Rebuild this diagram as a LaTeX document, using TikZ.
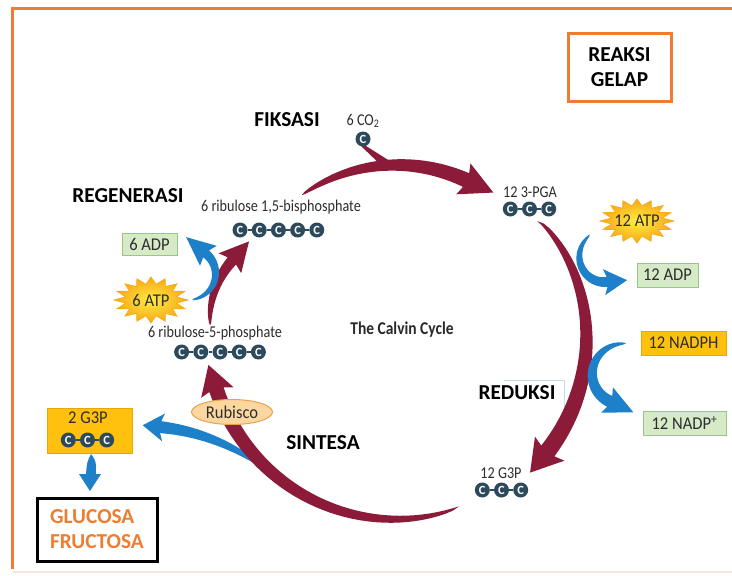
\documentclass[tikz,border=0pt]{standalone}
\usepackage{fontspec}
\setmainfont{Carlito}
\newfontfamily\campb[FakeStretch=0.86]{Carlito}
\newfontfamily\boxf[FakeStretch=0.92]{Carlito}
\usetikzlibrary{shapes.geometric}
\definecolor{cyc}{RGB}{140,27,58}
\definecolor{blu}{RGB}{30,128,200}
\definecolor{carb}{RGB}{44,74,92}
\definecolor{frameor}{RGB}{237,125,49}
\definecolor{gold}{RGB}{255,193,14}
\definecolor{goldedge}{RGB}{232,168,0}
\definecolor{gfill}{RGB}{214,234,200}
\definecolor{gedge}{RGB}{150,200,130}
\definecolor{rfill}{RGB}{252,216,160}
\definecolor{redge}{RGB}{233,160,80}
\definecolor{txtgray}{RGB}{45,45,45}
\definecolor{stary}{RGB}{255,236,70}
\definecolor{staro}{RGB}{247,168,20}
\definecolor{faint}{RGB}{200,218,228}
\colorlet{tcol}{cyc}
% tapered curved arrow: cx cy r0 a0 r1 a1 width headlength headhalfwidth
\newcommand\tarrow[9]{%
 \pgfmathsetmacro\tSg{ifthenelse((#6)>(#4),1,-1)}%
 \pgfmathsetmacro\tBx{(#1)+(#5)*cos(#6)}%
 \pgfmathsetmacro\tBy{(#2)+(#5)*sin(#6)}%
 \pgfmathsetmacro\tTx{0-(\tSg)*sin(#6)}%
 \pgfmathsetmacro\tTy{(\tSg)*cos(#6)}%
 \pgfmathsetmacro\tNx{cos(#6)}%
 \pgfmathsetmacro\tNy{sin(#6)}%
 \pgfmathsetmacro\hAx{\tBx+(#9)*(\tNx)-3*(\tTx)}%
 \pgfmathsetmacro\hAy{\tBy+(#9)*(\tNy)-3*(\tTy)}%
 \pgfmathsetmacro\hTx{\tBx+(#8)*(\tTx)}%
 \pgfmathsetmacro\hTy{\tBy+(#8)*(\tTy)}%
 \pgfmathsetmacro\hBx{\tBx-(#9)*(\tNx)-3*(\tTx)}%
 \pgfmathsetmacro\hBy{\tBy-(#9)*(\tNy)-3*(\tTy)}%
 \fill[tcol] plot[variable=\t,domain=0:1,samples=40]
  ({(#1)+((#3)+((#5)-(#3))*sqrt(abs(\t))+0.5*(#7)*sqrt(abs(\t)))*cos((#4)+((#6)-(#4))*\t)},
   {(#2)+((#3)+((#5)-(#3))*sqrt(abs(\t))+0.5*(#7)*sqrt(abs(\t)))*sin((#4)+((#6)-(#4))*\t)})
  -- (\hAx,\hAy) -- (\hTx,\hTy) -- (\hBx,\hBy)
  -- plot[variable=\t,domain=0:1,samples=40]
  ({(#1)+((#3)+((#5)-(#3))*sqrt(abs(1-\t))-0.5*(#7)*sqrt(abs(1-\t)))*cos((#4)+((#6)-(#4))*(1-\t))},
   {(#2)+((#3)+((#5)-(#3))*sqrt(abs(1-\t))-0.5*(#7)*sqrt(abs(1-\t)))*sin((#4)+((#6)-(#4))*(1-\t))})
  -- cycle;}
% starburst: cx cy rx ry
\newcommand\burst[4]{%
 \shadedraw[inner color=stary, outer color=staro, draw=staro, line width=0.6]
 ({#1+#3},{#2}) \foreach \k in {1,...,31}{ -- ({#1+#3*(0.85+0.15*cos(\k*180))*cos(\k*11.25)},{#2+#4*(0.85+0.15*cos(\k*180))*sin(\k*11.25)}) } -- cycle;}
% carbon chain: name x y n
\newcommand\chain[4]{%
 \foreach \i in {1,...,#4}{\node[carbon] (#1\i) at ({#2+(\i-(#4+1)/2)*19.2},#3) {C};}
 \foreach \i in {2,...,#4}{\pgfmathtruncatemacro\h{\i-1}\draw[bond] (#1\h) -- (#1\i);}}
\begin{document}
\begin{tikzpicture}[x=1pt,y=-1pt,
  biglabel/.style={font=\bfseries\fontsize{21.3}{25}\selectfont, text=black, inner sep=0},
  small/.style={font=\campb\fontsize{16.5}{18}\selectfont, text=txtgray, inner sep=0},
  boxtxt/.style={font=\boxf\fontsize{18}{20}\selectfont, text=txtgray, inner sep=0},
  gbox/.style={boxtxt, draw=gedge, fill=gfill, line width=1},
  ybox/.style={boxtxt, draw=goldedge, fill=gold, line width=1},
  carbon/.style={circle, fill=carb, text=white, inner sep=0, minimum size=15, font=\bfseries\fontsize{12.5}{12.5}\selectfont},
  bond/.style={draw=carb, line width=2.5},
]
\useasboundingbox (0,0) rectangle (732,576);
\fill[white] (0,0) rectangle (732,576);
% outer frame
\draw[frameor, line width=3] (12,569) -- (12,8) -- (734,8);
\draw[frameor!20, line width=2] (13,572) -- (732,572);
% title box
\node[draw=frameor, line width=3, minimum width=103, minimum height=68, align=center,
      font=\bfseries\fontsize{21.3}{25}\selectfont] (rg) at (619.5,67) {REAKSI\\GELAP};
% stage labels
\node[biglabel] (fiks) at (287,120) {FIKSASI};
\node[biglabel] (regen) at (128,196) {REGENERASI};
\node[biglabel] (sint) at (323,443) {SINTESA};
\node[biglabel] (redu) at (517,393) {REDUKSI};
\draw[faint, line width=1] (504,380) -- (564,380) -- (564,408);
\node[font=\campb\bfseries\fontsize{18}{20}\selectfont, text=txtgray!90!black] (calvin) at (402,330) {The Calvin Cycle};
% blue arrow to 2 G3P (behind red cycle)
\colorlet{tcol}{blu}
\tarrow{139}{633}{207}{-53}{207}{-84}{12}{18}{14}
% red cycle arrows
\colorlet{tcol}{cyc}
\tarrow{397}{331}{166}{235}{166}{294.6}{15}{30}{17}
\fill[cyc] (361,146) -- (366,146) -- (393,163) -- (385,169) -- cycle;
\tarrow{400}{330}{175}{-38.5}{191}{39.3}{17}{28}{19}
\tarrow{400}{330}{186}{71.5}{193}{162}{15}{26}{17}
\tarrow{298}{319}{88}{176}{88}{221.3}{11}{26}{15}
% other blue arrows
\colorlet{tcol}{blu}
\tarrow{190}{273}{27}{85}{25}{-50}{9}{26}{13}
\tarrow{605}{258}{28}{237}{24}{85}{10}{20}{13}
\tarrow{622}{375}{32}{277}{29}{115}{12}{26}{14}
\fill[blu] (91,454) .. controls (96,461) .. (96,474) -- (101,474) -- (90,491) -- (79,474) -- (86,474) .. controls (87,462) .. (91,454) -- cycle;
% molecules
\node[small] (co2lbl) at (363,121) {6 CO\textsubscript{2}};
\node[carbon] (co2) at (363,139) {C};
\node[small] (rubplbl) at (281,207) {6 ribulose 1,5-bisphosphate};
\chain{rb}{278.4}{230}{5}
\node[small] (r5plbl) at (215,333) {6 ribulose-5-phosphate};
\chain{rf}{220}{352}{5}
\node[small] (pgalbl) at (530,192) {12 3-PGA};
\chain{pg}{529.5}{209}{3}
\node[small] (g3plbl) at (501,473) {12 G3P};
\chain{gt}{501.5}{490}{3}
% boxes
\node[gbox, minimum width=55, minimum height=22] (adp6) at (149.5,244) {6 ADP};
\node[gbox, minimum width=61, minimum height=24] (adp12) at (667.5,275) {12 ADP};
\node[gbox, minimum width=83, minimum height=24] (nadpp) at (684.5,423) {12 NADP\textsuperscript{+}};
\node[ybox, minimum width=85, minimum height=24] (nadph) at (683.5,343) {12 NADPH};
\node[ybox, minimum width=85, minimum height=45] (g3pbox) at (89.5,430.5) {};
\node[boxtxt] (g3p2lbl) at (88,418) {2 G3P};
\chain{gb}{87.5}{440}{3}
% stars
\burst{151}{300}{37}{23}
\node[boxtxt] (atp6) at (151,300) {6 ATP};
\burst{637}{221}{37}{22}
\node[boxtxt] (atp12) at (637,221) {12 ATP};
% rubisco
\node[ellipse, draw=redge, fill=rfill, line width=1, minimum width=81, minimum height=25, inner sep=0, boxtxt] (rub) at (232,412) {Rubisco};
% product box
\node[draw=black, line width=3, minimum width=120, minimum height=63, align=left,
      font=\bfseries\fontsize{21.3}{25}\selectfont, text=frameor] (glu) at (97,529.5) {GLUCOSA\\FRUCTOSA};
\end{tikzpicture}
\end{document}
